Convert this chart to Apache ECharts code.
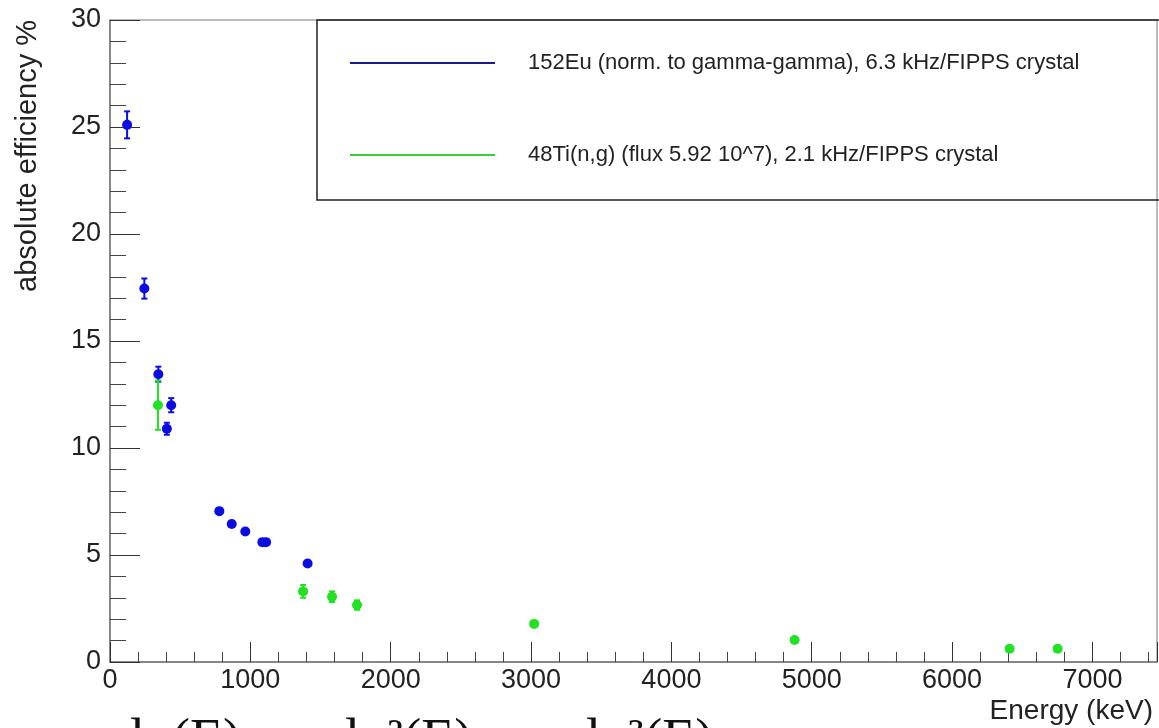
<!DOCTYPE html>
<html>
<head>
<meta charset="utf-8">
<script src="https://cdn.jsdelivr.net/npm/echarts@6/dist/echarts.min.js"></script>
<style>
  html, body { margin: 0; padding: 0; background: #fff; }
  #chart { width: 1159px; height: 728px; }
</style>
</head>
<body>
<div id="chart"></div>
<script>
// 152Eu source points (keV, %, error)
const euEnergy = [121.8, 244.7, 344.3, 405.0, 436.0, 778.9, 867.4, 964.1, 1085.8, 1112.1, 1408.0]
const euEff = [25.1, 17.45, 13.45, 10.9, 12.0, 7.05, 6.45, 6.1, 5.6, 5.6, 4.6]
const euErr = [0.63, 0.47, 0.35, 0.28, 0.33, 0.12, 0.12, 0.12, 0.12, 0.12, 0.1]

// 48Ti(n,g) points
const tiEnergy = [341.7, 1376.0, 1582.0, 1760.0, 3022.0, 4878.0, 6410.0, 6752.0]
const tiEff = [12.0, 3.3, 3.05, 2.66, 1.78, 1.03, 0.62, 0.62]
const tiErr = [1.15, 0.3, 0.25, 0.22, 0.08, 0.06, 0.05, 0.05]

const euName = "152Eu (norm. to gamma-gamma), 6.3 kHz/FIPPS crystal"
const tiName = "48Ti(n,g) (flux 5.92 10^7), 2.1 kHz/FIPPS crystal"

const euColor = "#0c0ce0"
const tiColor = "#22e022"
const font = "Liberation Sans"

const points = (xs, ys) => xs.map((x, i) => [x, ys[i]])
const bars = (xs, ys, es) => xs.map((x, i) => [x, ys[i] - es[i], ys[i] + es[i]])

// vertical error bar with small caps
function errorBar(color) {
  return function (params, api) {
    const lo = api.coord([api.value(0), api.value(1)])
    const hi = api.coord([api.value(0), api.value(2)])
    const cap = 3
    const style = { stroke: color, lineWidth: 2 }
    return {
      type: "group",
      children: [
        { type: "line", shape: { x1: lo[0], y1: lo[1], x2: hi[0], y2: hi[1] }, style },
        { type: "line", shape: { x1: lo[0] - cap, y1: lo[1], x2: lo[0] + cap, y2: lo[1] }, style },
        { type: "line", shape: { x1: hi[0] - cap, y1: hi[1], x2: hi[0] + cap, y2: hi[1] }, style },
      ],
    }
  }
}

const chart = echarts.init(document.getElementById("chart"), null, { renderer: "canvas" })

const axisText = { color: "#222", fontFamily: font, fontSize: 27 }

const option = {
  backgroundColor: "#fff",
  animation: false,
  grid: {
    left: 110, top: 20, right: 2, bottom: 66,
    show: true, borderColor: "#777", borderWidth: 1,
  },
  xAxis: {
    type: "value",
    min: 0, max: 7460, interval: 1000,
    axisLine: { lineStyle: { color: "#777", width: 1.5 } },
    axisTick: { inside: true, length: 20, lineStyle: { color: "#333" } },
    minorTick: { show: true, splitNumber: 5, length: 10, lineStyle: { color: "#444" } },
    splitLine: { show: false },
    axisLabel: { ...axisText, margin: 5, showMaxLabel: false, formatter: (v) => String(v) },
  },
  yAxis: {
    type: "value",
    min: 0, max: 30, interval: 5,
    axisLine: { show: true, lineStyle: { color: "#777", width: 1.5 } },
    axisTick: { show: true, inside: true, length: 30, lineStyle: { color: "#333" } },
    minorTick: { show: true, splitNumber: 5, length: 16, lineStyle: { color: "#444" } },
    splitLine: { show: false },
    axisLabel: { ...axisText, margin: 9 },
  },
  legend: {
    left: 317, top: 20,
    orient: "vertical",
    padding: [32, 82, 34, 33],
    itemWidth: 145, itemHeight: 2, itemGap: 70,
    borderColor: "#222", borderWidth: 1.5,
    textStyle: { color: "#222", fontFamily: font, fontSize: 22, padding: [0, 0, 0, 28] },
    data: [
      { name: euName, icon: "rect", itemStyle: { color: "#1a1a8c" } },
      { name: tiName, icon: "rect", itemStyle: { color: "#3ccc3c" } },
    ],
    selectedMode: false,
  },
  series: [
    {
      name: "euErr", type: "custom", renderItem: errorBar(euColor),
      data: bars(euEnergy, euEff, euErr), z: 2,
    },
    {
      name: "tiErr", type: "custom", renderItem: errorBar(tiColor),
      data: bars(tiEnergy, tiEff, tiErr), z: 2,
    },
    {
      name: euName, type: "scatter", symbol: "circle", symbolSize: 10,
      itemStyle: { color: euColor, opacity: 1 }, data: points(euEnergy, euEff), z: 3,
    },
    {
      name: tiName, type: "scatter", symbol: "circle", symbolSize: 10,
      itemStyle: { color: tiColor, opacity: 1 }, data: points(tiEnergy, tiEff), z: 3,
    },
  ],
  graphic: [
    {
      type: "text", x: 28, y: 20, rotation: Math.PI / 2,
      style: {
        text: "absolute efficiency %", fill: "#222", font: "29px " + font,
        textAlign: "right", textVerticalAlign: "middle",
      },
    },
    {
      type: "text", x: 1153, y: 711,
      style: {
        text: "Energy (keV)", fill: "#222", font: "28px " + font,
        textAlign: "right", textVerticalAlign: "middle",
      },
    },
    // fit formula below the frame, mostly cut off by the picture edge
    {
      type: "text", x: 130, y: 715,
      style: { text: "ln(E)", fill: "#111", font: "54px 'Liberation Serif'", textVerticalAlign: "top" },
    },
    {
      type: "text", x: 345, y: 715,
      style: { text: "ln²(E)", fill: "#111", font: "54px 'Liberation Serif'", textVerticalAlign: "top" },
    },
    {
      type: "text", x: 586, y: 715,
      style: { text: "ln³(E)", fill: "#111", font: "54px 'Liberation Serif'", textVerticalAlign: "top" },
    },
  ],
}

chart.setOption(option)
</script>
</body>
</html>
